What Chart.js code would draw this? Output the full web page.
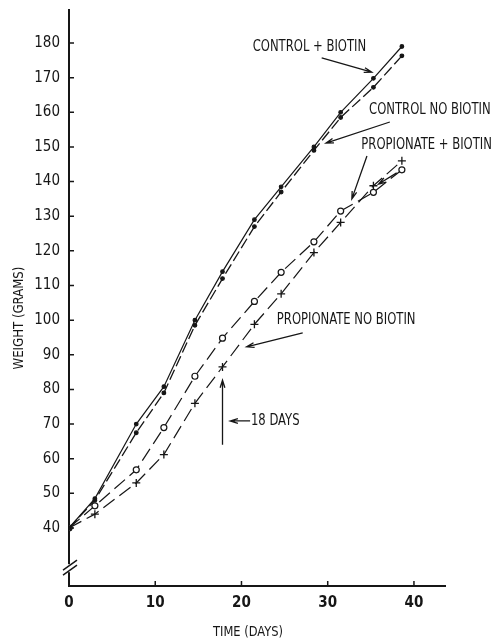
<!DOCTYPE html>
<html>
<head>
<meta charset="utf-8">
<script src="https://cdn.jsdelivr.net/npm/chart.js@4"></script>
<style>
  html, body { margin: 0; padding: 0; background: #fff; }
</style>
</head>
<body>
<canvas id="myChart" width="499" height="639"></canvas>
<script>
// weighing days and body weight (grams) per group
const days = [0, 3, 7.8, 11, 14.6, 17.8, 21.5, 24.6, 28.4, 31.5, 35.3, 38.6];
const controlBiotin = [40, 48.5, 70, 80.8, 100, 114, 129, 138.5, 150, 160, 169.8, 179];
const controlNoBiotin = [40, 48, 67.5, 79, 98.5, 112, 127, 137, 149, 158.5, 167.2, 176.3];
const propionateBiotin = [40, 46.4, 56.8, 69, 83.8, 94.8, 105.4, 113.8, 122.6, 131.5, 136.9, 143.4];
const propionateNoBiotin = [40, 44, 53, 61.2, 76, 86.5, 98.8, 107.6, 119.5, 128.2, 138.8, 146];

const xTicks = [0, 10, 20, 30, 40];
const yTicks = [40, 50, 60, 70, 80, 90, 100, 110, 120, 130, 140, 150, 160, 170, 180];

const INK = '#161616';
const FONT = '"Liberation Sans Narrow", "DejaVu Sans Condensed", sans-serif';

function pts(vals) {
  return vals.map((v, i) => ({ x: days[i], y: v }));
}

// labels with arrows, in data units
const notes = [
  { text: 'CONTROL + BIOTIN', x: 21.3, y: 178.9, arrows: [[29.3, 175.7, 35.1, 171.6]] },
  { text: 'CONTROL NO BIOTIN', x: 34.8, y: 160.7, arrows: [[37.2, 157.2, 29.8, 151.1]] },
  { text: 'PROPIONATE + BIOTIN', x: 33.9, y: 150.6, arrows: [[34.55, 147.4, 32.8, 135.0], [38.0, 142.5, 35.9, 139.3]] },
  { text: 'PROPIONATE NO BIOTIN', x: 24.1, y: 100.0, arrows: [[27.1, 96.3, 20.6, 92.3]] },
  { text: '18 DAYS', x: 21.1, y: 70.9, arrows: [[21.0, 70.9, 18.7, 70.9], [17.8, 64.0, 17.8, 82.7]] }
];

function arrow(c, x1, y1, x2, y2) {
  const a = Math.atan2(y2 - y1, x2 - x1);
  const h = 8;
  c.beginPath();
  c.moveTo(x1, y1);
  c.lineTo(x2, y2);
  c.moveTo(x2 - h * Math.cos(a - 0.3), y2 - h * Math.sin(a - 0.3));
  c.lineTo(x2, y2);
  c.lineTo(x2 - h * Math.cos(a + 0.3), y2 - h * Math.sin(a + 0.3));
  c.stroke();
}

// narrow lettering: squeeze horizontally
function narrowText(c, str, x, y, sx) {
  c.save();
  c.translate(x, y);
  c.scale(sx, 1);
  c.fillText(str, 0, 0);
  c.restore();
}

const extras = {
  id: 'extras',
  afterDraw(chart) {
    const c = chart.ctx;
    const xs = chart.scales.x, ys = chart.scales.y;
    const left = xs.left, bottom = ys.bottom;
    c.save();
    c.strokeStyle = INK;
    c.fillStyle = INK;
    c.lineWidth = 1.5;

    // inward tick marks
    c.beginPath();
    yTicks.forEach(v => {
      const y = ys.getPixelForValue(v);
      c.moveTo(left, y);
      c.lineTo(left + 5, y);
    });
    xTicks.slice(1).forEach(v => {
      const x = xs.getPixelForValue(v);
      c.moveTo(x, bottom);
      c.lineTo(x, bottom - 5);
    });
    c.stroke();

    // broken y axis
    const yb = ys.getPixelForValue(28.4);
    c.fillStyle = '#fff';
    c.fillRect(left - 3, yb - 4, 6, 8);
    c.beginPath();
    c.moveTo(left - 6, yb + 2);
    c.lineTo(left + 8, yb - 8);
    c.moveTo(left - 6, yb + 7);
    c.lineTo(left + 8, yb - 3);
    c.stroke();

    // axis titles
    c.fillStyle = INK;
    c.font = '14.5px ' + FONT;
    c.textAlign = 'center';
    c.textBaseline = 'middle';
    narrowText(c, 'TIME (DAYS)', 248, 632, 0.88);
    c.save();
    c.translate(19, 318);
    c.rotate(-Math.PI / 2);
    narrowText(c, 'WEIGHT (GRAMS)', 0, 0, 0.9);
    c.restore();

    // curve labels
    c.font = '15px ' + FONT;
    c.textAlign = 'left';
    c.lineWidth = 1.3;
    notes.forEach(n => {
      narrowText(c, n.text, xs.getPixelForValue(n.x), ys.getPixelForValue(n.y), 0.86);
      n.arrows.forEach(a => arrow(c,
        xs.getPixelForValue(a[0]), ys.getPixelForValue(a[1]),
        xs.getPixelForValue(a[2]), ys.getPixelForValue(a[3])));
    });
    c.restore();
  }
};

const ctx = document.getElementById('myChart');
new Chart(ctx, {
  type: 'line',
  data: {
    datasets: [
      {
        label: 'Control + biotin',
        data: pts(controlBiotin),
        borderColor: INK, backgroundColor: INK,
        borderWidth: 1.2, pointRadius: 1.8, pointStyle: 'circle'
      },
      {
        label: 'Control no biotin',
        data: pts(controlNoBiotin),
        borderColor: INK, backgroundColor: INK,
        borderWidth: 1.3, borderDash: [11, 4], pointRadius: 1.8, pointStyle: 'circle'
      },
      {
        label: 'Propionate + biotin',
        data: pts(propionateBiotin),
        borderColor: INK, backgroundColor: '#fff',
        borderWidth: 1.2, borderDash: [14, 6], pointRadius: 3, pointBorderWidth: 1.2, pointStyle: 'circle'
      },
      {
        label: 'Propionate no biotin',
        data: pts(propionateNoBiotin),
        borderColor: INK, backgroundColor: INK,
        borderWidth: 1.2, borderDash: [14, 6], pointRadius: 4, pointBorderWidth: 1.3, pointStyle: 'cross'
      }
    ]
  },
  options: {
    responsive: false,
    animation: false,
    layout: { padding: { left: 0, top: 10, right: 54, bottom: 0 } },
    plugins: {
      legend: { display: false },
      tooltip: { enabled: false }
    },
    scales: {
      x: {
        type: 'linear',
        min: 0,
        max: 43.6,
        afterBuildTicks: s => { s.ticks = xTicks.map(v => ({ value: v })); },
        afterFit: s => { s.height = 53; s.paddingLeft = 0; s.paddingRight = 0; },
        grid: { display: false, drawTicks: false },
        border: { display: true, color: INK, width: 2 },
        ticks: { color: INK, padding: 8, font: { family: FONT, size: 15, weight: 'bold' } }
      },
      y: {
        min: 23.26,
        max: 189.53,
        afterBuildTicks: s => { s.ticks = yTicks.map(v => ({ value: v })); },
        afterFit: s => { s.width = 69; s.paddingTop = 0; s.paddingBottom = 0; },
        grid: { display: false, drawTicks: false },
        border: { display: true, color: INK, width: 2 },
        ticks: { color: INK, padding: 9, font: { family: FONT, size: 15 } }
      }
    }
  },
  plugins: [extras]
});
</script>
</body>
</html>
